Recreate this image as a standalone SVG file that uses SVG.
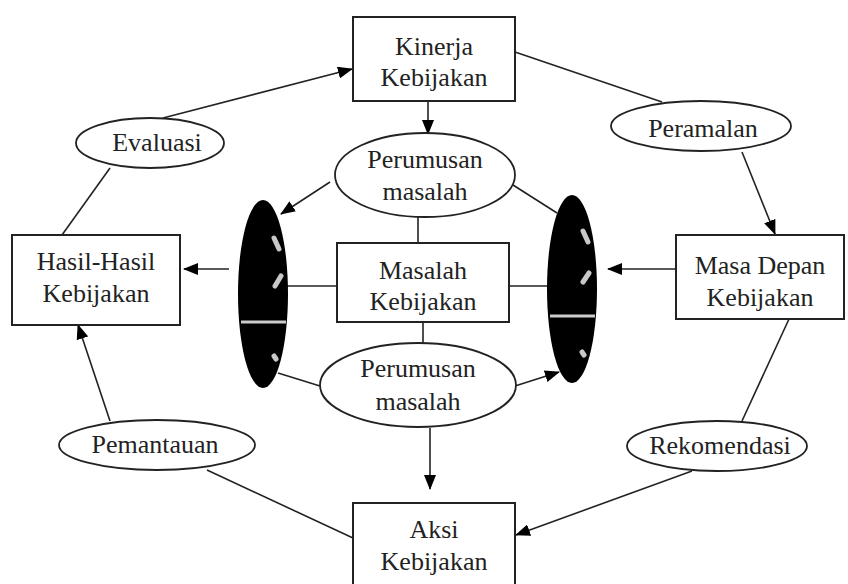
<svg xmlns="http://www.w3.org/2000/svg" width="848" height="584" viewBox="0 0 848 584">
<defs>
<marker id="ah" markerUnits="userSpaceOnUse" markerWidth="16" markerHeight="12" refX="14" refY="6" orient="auto">
<path d="M0,0 L15,6 L0,12 Z" fill="#000"/>
</marker>
<style>
.box{fill:#fff;stroke:#222;stroke-width:2}
.ell{fill:#fff;stroke:#222;stroke-width:1.8}
.blk{fill:#000;stroke:none}
.wm{stroke:#c8c8c8;stroke-width:5;stroke-linecap:round;fill:none}
.wl{stroke:#ccc;stroke-width:3}
.ln{stroke:#222;stroke-width:1.6;fill:none}
.ar{stroke:#222;stroke-width:1.6;fill:none;marker-end:url(#ah)}
text{font-family:"Liberation Serif","Times New Roman",serif;font-size:26px;fill:#222;text-anchor:middle}
</style>
</defs>
<rect width="848" height="584" fill="#fff"/>
<g id="connectors">
<line class="ar" x1="163" y1="118" x2="352" y2="69"/>
<line class="ln" x1="110" y1="168" x2="62" y2="235"/>
<line class="ln" x1="515" y1="52" x2="662" y2="102"/>
<line class="ar" x1="742" y1="152" x2="775" y2="234"/>
<line class="ln" x1="789" y1="319" x2="742" y2="421"/>
<line class="ar" x1="692" y1="471" x2="516" y2="535"/>
<line class="ln" x1="207" y1="470" x2="353" y2="538"/>
<line class="ar" x1="110" y1="421" x2="78" y2="325"/>
<line class="ar" x1="428" y1="101" x2="428" y2="134"/>
<line class="ar" x1="330" y1="182" x2="281" y2="214"/>
<line class="ln" x1="513" y1="185" x2="557" y2="213"/>
<line class="ln" x1="418" y1="217" x2="418" y2="243"/>
<line class="ln" x1="287" y1="286" x2="337" y2="286"/>
<line class="ln" x1="509" y1="286" x2="547" y2="286"/>
<line class="ln" x1="423" y1="322" x2="423" y2="343"/>
<line class="ln" x1="278" y1="373" x2="320" y2="386"/>
<line class="ar" x1="515" y1="386" x2="559" y2="372"/>
<line class="ar" x1="430" y1="428" x2="430" y2="489"/>
<line class="ar" x1="229" y1="269" x2="184" y2="269"/>
<line class="ar" x1="676" y1="269" x2="608" y2="269"/>
</g>
<g id="kinerja">
<rect class="box" x="353" y="17" width="162" height="84"/>
<text x="434" y="55">Kinerja</text>
<text x="434" y="86">Kebijakan</text>
</g>
<g id="hasil">
<rect class="box" x="12" y="235" width="168" height="90"/>
<text x="96" y="270">Hasil-Hasil</text>
<text x="96" y="302">Kebijakan</text>
</g>
<g id="masadepan">
<rect class="box" x="676" y="235" width="168" height="84"/>
<text x="760" y="274">Masa Depan</text>
<text x="760" y="306">Kebijakan</text>
</g>
<g id="aksi">
<rect class="box" x="353" y="503" width="162" height="90"/>
<text x="434" y="538">Aksi</text>
<text x="434" y="570">Kebijakan</text>
</g>
<g id="masalah">
<rect class="box" x="337" y="243" width="172" height="79"/>
<text x="423" y="279">Masalah</text>
<text x="423" y="310">Kebijakan</text>
</g>
<g id="perumusan1">
<ellipse class="ell" cx="425" cy="175" rx="90" ry="42"/>
<text x="425" y="168">Perumusan</text>
<text x="425" y="200">masalah</text>
</g>
<g id="perumusan2">
<ellipse class="ell" cx="418" cy="385" rx="98" ry="42"/>
<text x="418" y="377">Perumusan</text>
<text x="418" y="410">masalah</text>
</g>
<g id="evaluasi">
<ellipse class="ell" cx="150" cy="143" rx="74" ry="25"/>
<text x="157" y="151">Evaluasi</text>
</g>
<g id="peramalan">
<ellipse class="ell" cx="701" cy="126" rx="90" ry="25"/>
<text x="703" y="137">Peramalan</text>
</g>
<g id="pemantauan">
<ellipse class="ell" cx="157" cy="445" rx="98" ry="25"/>
<text x="155" y="453">Pemantauan</text>
</g>
<g id="rekomendasi">
<ellipse class="ell" cx="717" cy="446" rx="90" ry="25"/>
<text x="720" y="454">Rekomendasi</text>
</g>
<g id="lensa-kiri">
<ellipse class="blk" cx="263" cy="294" rx="25" ry="94"/>
<line class="wl" x1="241" y1="322" x2="286" y2="322"/>
<path class="wm" d="M274,238 L279,249 M281,276 L275,286 M274,356 L276,359"/>
</g>
<g id="lensa-kanan">
<ellipse class="blk" cx="572" cy="289" rx="25" ry="94"/>
<line class="wl" x1="550" y1="316" x2="595" y2="316"/>
<path class="wm" d="M583,231 L588,242 M589,273 L583,282 M582,352 L584,355"/>
</g>
</svg>
